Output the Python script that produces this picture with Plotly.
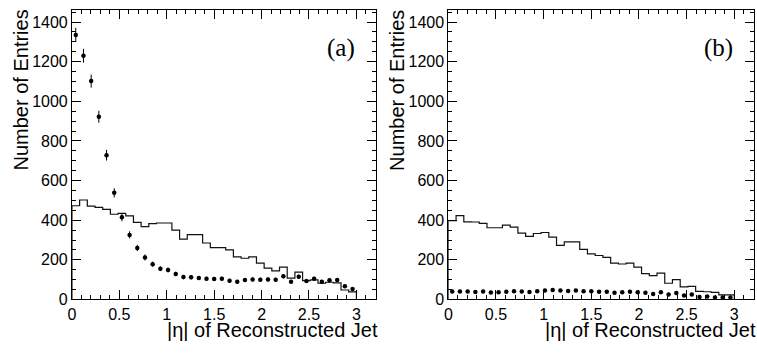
import numpy as np
import plotly.graph_objects as go

# ---------------- data ----------------
ETA_MIN, ETA_MAX, N_BINS = 0.0, 3.0, 37

# panel (a)
hist_a = [473, 502, 471, 465, 455, 430, 435, 422, 389, 368,
          383, 386, 386, 350, 305, 327, 327, 285, 262, 262,
          250, 215, 208, 215, 184, 158, 144, 163, 108, 138,
          95, 99, 82, 87, 84, 48, 38]
points_a = [1335, 1230, 1102, 922, 728, 538, 415, 326, 260, 212,
            178, 155, 149, 129, 113, 112, 108, 105, 104, 105,
            95, 90, 98, 101, 100, 101, 99, 117, 90, 115,
            93, 105, 90, 97, 98, 67, 53]
errors_a = [36, 35, 33, 30, 27, 23, 20, 18, 16, 15,
            13, 12, 12, 11, 11, 11, 10, 10, 10, 10,
            10, 9, 10, 10, 10, 10, 10, 11, 9, 11,
            10, 10, 9, 10, 10, 8, 7]

# panel (b)
hist_b = [398, 423, 392, 391, 384, 362, 362, 375, 365, 335,
          318, 333, 338, 315, 273, 291, 291, 253, 230, 222,
          213, 184, 179, 184, 163, 131, 120, 133, 82, 100,
          64, 66, 41, 39, 36, 23, 23]
points_b = [40, 40, 40, 38, 40, 35, 37, 39, 42, 40,
            38, 42, 46, 48, 45, 43, 46, 41, 41, 39,
            39, 34, 36, 39, 36, 34, 28, 36, 25, 33,
            20, 25, 13, 15, 10, 10, 10]
errors_b = [6, 6, 6, 6, 6, 6, 6, 6, 6, 6,
            6, 6, 7, 7, 7, 7, 7, 6, 6, 6,
            6, 6, 6, 6, 6, 6, 5, 6, 5, 6,
            4, 5, 4, 4, 3, 3, 3]

x_tick_vals = [0, 0.5, 1, 1.5, 2, 2.5, 3]
x_tick_text = ["0", "0.5", "1", "1.5", "2", "2.5", "3"]
y_tick_vals = [0, 200, 400, 600, 800, 1000, 1200, 1400]
y_tick_text = ["0", "200", "400", "600", "800", "1000", "1200", "1400"]

x_title = "|η| of Reconstructed Jet"
y_title = "Number of Entries"
panel_labels = ["(a)", "(b)"]

# ---------------- figure ----------------
W, H = 757, 354
edges = np.linspace(ETA_MIN, ETA_MAX, N_BINS + 1)
centers = 0.5 * (edges[:-1] + edges[1:])

fig = go.Figure()

def px_x(p):
    return p / W

def px_y(p):
    return 1 - p / H

dom_a = [px_x(68.3), px_x(374.3)]
dom_b = [px_x(446.7), px_x(754.3)]
dom_y = [px_y(307.3), px_y(10)]
X_RANGE = [0, 3.21]
Y_RANGE = [0, 1462]

for i, (hist, pts, errs) in enumerate([(hist_a, points_a, errors_a),
                                        (hist_b, points_b, errors_b)]):
    xa = "x" if i == 0 else "x2"
    ya = "y" if i == 0 else "y2"
    hx = [edges[0]] + list(edges[:-1]) + [edges[-1], edges[-1]]
    hy = [0] + list(hist) + [hist[-1], 0]
    fig.add_trace(go.Scatter(x=hx, y=hy, mode="lines",
                             line=dict(color="#111111", width=1.2, shape="hv"),
                             xaxis=xa, yaxis=ya, hoverinfo="skip"))
    fig.add_trace(go.Scatter(x=centers, y=pts, mode="markers",
                             marker=dict(color="black", size=4.5),
                             error_y=dict(type="data", array=errs, visible=True,
                                          color="black", thickness=1, width=0),
                             xaxis=xa, yaxis=ya))

tick_font = dict(family="Liberation Sans, Arial, sans-serif", size=16, color="black")

def xaxis(domain, anchor):
    return dict(domain=domain, anchor=anchor, range=X_RANGE,
                tickmode="array", tickvals=x_tick_vals, ticktext=x_tick_text,
                ticks="inside", ticklen=9, tickwidth=1, tickcolor="black",
                showline=True, linecolor="black", linewidth=1, mirror="allticks",
                showgrid=False, zeroline=False, tickfont=tick_font,
                minor=dict(tickmode="linear", tick0=0, dtick=0.1, ticks="inside",
                           ticklen=4, tickwidth=1, tickcolor="black", showgrid=False))

def yaxis(domain, anchor):
    return dict(domain=domain, anchor=anchor, range=Y_RANGE,
                tickmode="array", tickvals=y_tick_vals, ticktext=y_tick_text,
                ticks="inside", ticklen=9, tickwidth=1, tickcolor="black",
                showline=True, linecolor="black", linewidth=1, mirror="allticks",
                showgrid=False, zeroline=False, tickfont=tick_font,
                minor=dict(tickmode="linear", tick0=0, dtick=50, ticks="inside",
                           ticklen=4, tickwidth=1, tickcolor="black", showgrid=False))

fig.update_layout(
    width=W, height=H, autosize=False,
    margin=dict(l=0, r=0, t=0, b=0),
    paper_bgcolor="white", plot_bgcolor="white",
    showlegend=False,
    xaxis=xaxis(dom_a, "y"), yaxis=yaxis(dom_y, "x"),
    xaxis2=xaxis(dom_b, "y2"), yaxis2=yaxis(dom_y, "x2"),
)

title_font = dict(family="Liberation Sans, Arial, sans-serif", size=20, color="black")
annos = []
for dom, lab, lab_x in [(dom_a, panel_labels[0], 339), (dom_b, panel_labels[1], 718.5)]:
    annos.append(dict(text=x_title, xref="paper", yref="paper",
                      x=dom[1] + px_x(4), y=px_y(339), xanchor="right", yanchor="middle",
                      showarrow=False, font=title_font))
    annos.append(dict(text=y_title, xref="paper", yref="paper",
                      x=dom[0] - px_x(51), y=px_y(8), xanchor="center", yanchor="top",
                      textangle=-90, showarrow=False, font=title_font))
    annos.append(dict(text=lab, xref="paper", yref="paper",
                      x=px_x(lab_x), y=px_y(49), xanchor="center", yanchor="middle",
                      showarrow=False,
                      font=dict(family="Liberation Serif, Times New Roman, serif",
                                size=25, color="black")))
fig.update_layout(annotations=annos)

fig.write_html("out.html")
